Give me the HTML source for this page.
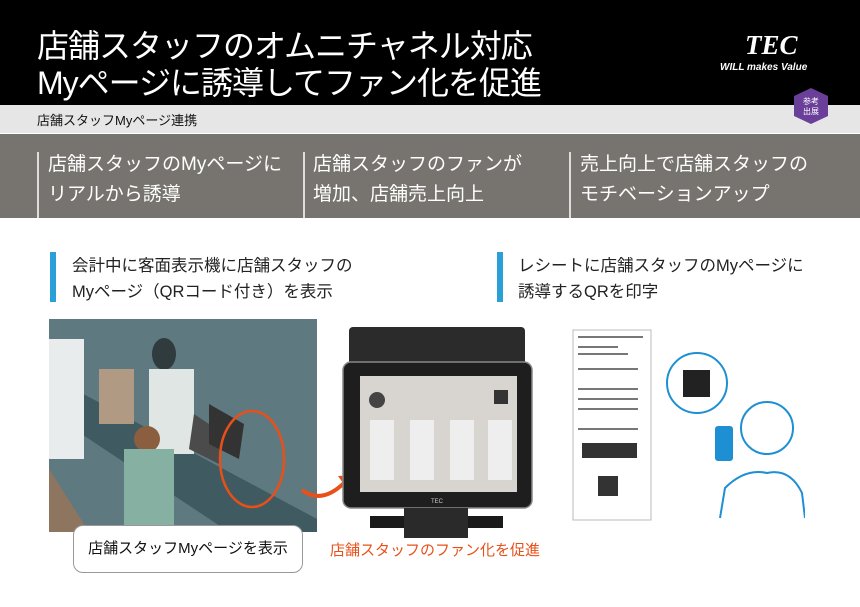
<!DOCTYPE html><html><head><meta charset="utf-8"><style>
*{margin:0;padding:0;box-sizing:border-box}
body{width:860px;height:607px;overflow:hidden;background:#fff;font-family:"Liberation Sans","Noto Sans CJK JP",sans-serif;position:relative}
.a{position:absolute;white-space:nowrap}
</style></head><body>
<div class="a" style="left:0;top:0;width:860px;height:105px;background:#000"></div>
<div class="a" style="left:37px;top:28px;color:#fff;font-size:32px;line-height:37px;letter-spacing:-1px">店舗スタッフのオムニチャネル対応<br>Myページに誘導してファン化を促進</div>
<div class="a" style="left:745px;top:30px;color:#fff;font-size:27px;font-weight:bold;font-style:italic;font-family:'Liberation Serif',serif">TEC</div>
<div class="a" style="left:720px;top:62px;color:#fff;font-size:10px;font-style:italic;font-weight:bold">WILL makes Value</div>
<div class="a" style="left:0;top:105px;width:860px;height:28px;background:#e6e6e6"></div>
<div class="a" style="left:37px;top:110px;font-size:13px;color:#111">店舗スタッフMyページ連携</div>
<svg class="a" style="left:790px;top:86px" width="42" height="40"><polygon points="21,2 38,10 38,30 21,38 4,30 4,10" fill="#6a3f9a"/><text x="21" y="18" fill="#fff" font-size="8" text-anchor="middle" font-family="Noto Sans CJK JP">参考</text><text x="21" y="28" fill="#fff" font-size="8" text-anchor="middle" font-family="Noto Sans CJK JP">出展</text></svg>
<div class="a" style="left:0;top:134px;width:860px;height:84px;background:#77746f"></div>
<div class="a" style="left:37px;top:152px;width:2px;height:66px;background:#ddd"></div>
<div class="a" style="left:303px;top:152px;width:2px;height:66px;background:#ddd"></div>
<div class="a" style="left:569px;top:152px;width:2px;height:66px;background:#ddd"></div>
<div class="a" style="left:48px;top:150px;color:#fff;font-size:19px;line-height:30px">店舗スタッフのMyページに<br>リアルから誘導</div>
<div class="a" style="left:313px;top:150px;color:#fff;font-size:19px;line-height:30px">店舗スタッフのファンが<br>増加、店舗売上向上</div>
<div class="a" style="left:580px;top:150px;color:#fff;font-size:19px;line-height:30px">売上向上で店舗スタッフの<br>モチベーションアップ</div>
<div class="a" style="left:50px;top:252px;width:6px;height:50px;background:#2a9fd8"></div>
<div class="a" style="left:72px;top:253px;font-size:16.5px;line-height:26px;color:#222">会計中に客面表示機に店舗スタッフの<br>Myページ（QRコード付き）を表示</div>
<div class="a" style="left:497px;top:252px;width:6px;height:50px;background:#2a9fd8"></div>
<div class="a" style="left:518px;top:253px;font-size:16.5px;line-height:26px;color:#222">レシートに店舗スタッフのMyページに<br>誘導するQRを印字</div>
<svg class="a" style="left:49px;top:319px" width="268" height="213">
<rect width="268" height="213" fill="#5e7a80"/>
<polygon points="0,150 40,213 0,213" fill="#8d7560"/>
<polygon points="25,70 268,200 268,213 180,213 25,110" fill="#3f5a60"/>
<rect x="0" y="20" width="35" height="120" fill="#e8ecec"/>
<rect x="50" y="50" width="35" height="55" fill="#b19a84"/>
<ellipse cx="115" cy="35" rx="12" ry="16" fill="#2f3b3d"/>
<rect x="100" y="50" width="45" height="85" fill="#dfe6e4"/>
<circle cx="98" cy="120" r="13" fill="#8a5e3e"/>
<rect x="75" y="130" width="50" height="80" fill="#86b0a2"/>
<polygon points="145,95 175,115 170,145 140,130" fill="#4b4b4b"/>
<polygon points="160,85 195,105 190,140 160,125" fill="#333"/>
<ellipse cx="203" cy="140" rx="32" ry="48" fill="none" stroke="#e8501a" stroke-width="2.5"/>
</svg>
<svg class="a" style="left:300px;top:470px" width="60" height="40"><path d="M2,20 Q22,35 45,12" fill="none" stroke="#e8501a" stroke-width="4"/><polygon points="38,6 56,5 48,20" fill="#e8501a"/></svg>
<div class="a" style="left:73px;top:525px;width:230px;height:48px;border:1px solid #999;border-radius:10px;background:#fff;font-size:15px;line-height:46px;text-align:center;color:#111">店舗スタッフMyページを表示</div>
<div class="a" style="left:330px;top:539px;font-size:15px;color:#e8501a">店舗スタッフのファン化を促進</div>
<svg class="a" style="left:340px;top:325px" width="195" height="215">
<rect x="9" y="2" width="176" height="38" rx="4" fill="#2b2b2b"/>
<rect x="3" y="37" width="189" height="146" rx="8" fill="#1e1e1e" stroke="#888" stroke-width="1.5"/>
<rect x="20" y="51" width="157" height="116" fill="#d8d5d0"/>
<rect x="30" y="191" width="133" height="12" fill="#1a1a1a"/>
<rect x="64" y="183" width="64" height="30" fill="#2a2a2a"/>
<rect x="30" y="95" width="24" height="60" fill="#eeeeee"/><rect x="70" y="95" width="24" height="60" fill="#eeeeee"/><rect x="110" y="95" width="24" height="60" fill="#eeeeee"/><rect x="148" y="95" width="24" height="60" fill="#eeeeee"/>
<rect x="154" y="65" width="14" height="14" fill="#333"/>
<circle cx="37" cy="75" r="8" fill="#444"/>
<text x="97" y="178" fill="#ccc" font-size="6" text-anchor="middle">TEC</text>
</svg>
<svg class="a" style="left:570px;top:328px" width="235" height="200">
<rect x="3" y="2" width="78" height="190" fill="#fff" stroke="#bbb"/>
<g fill="#777"><rect x="8" y="8" width="65" height="2"/><rect x="8" y="18" width="40" height="2"/><rect x="8" y="25" width="50" height="2"/><rect x="8" y="40" width="60" height="2"/><rect x="8" y="60" width="60" height="2"/><rect x="8" y="70" width="60" height="2"/><rect x="8" y="80" width="60" height="2"/><rect x="8" y="100" width="60" height="2"/></g>
<rect x="12" y="115" width="55" height="15" fill="#333"/>
<rect x="28" y="148" width="20" height="20" fill="#333"/>
<circle cx="127" cy="55" r="30" fill="#fff" stroke="#1e8fd2" stroke-width="2"/>
<rect x="113" y="42" width="27" height="27" fill="#222"/>
<circle cx="197" cy="100" r="26" fill="none" stroke="#1e8fd2" stroke-width="2"/>
<path d="M150,190 L155,160 Q175,140 197,145 Q220,140 232,165 L235,190" fill="none" stroke="#1e8fd2" stroke-width="2"/>
<rect x="145" y="98" width="18" height="35" rx="3" fill="#1e8fd2"/>
</svg>
</body></html>
